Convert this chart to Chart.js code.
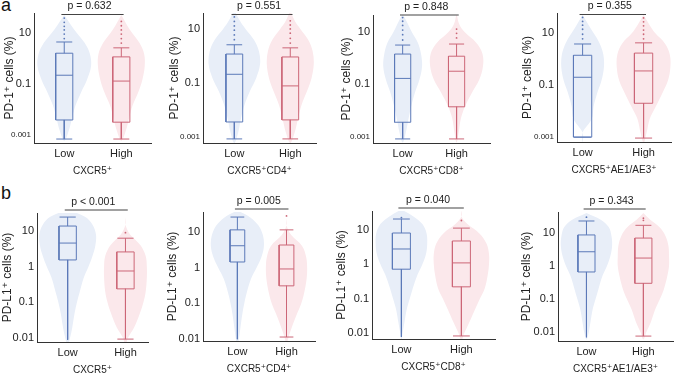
<!DOCTYPE html>
<html>
<head>
<meta charset="utf-8">
<script src="https://cdn.jsdelivr.net/npm/chart.js@4.4.1/dist/chart.umd.min.js"></script>
<style>
  body { margin: 0; background: #fff; width: 677px; height: 374px; overflow: hidden; position: relative;
         font-family: Arial, "Liberation Sans", sans-serif; }
  canvas { position: absolute; }
  .tag { position: absolute; font-size: 18px; line-height: 20px; color: #111; }
</style>
</head>
<body>
<div class="tag" style="left:1px;top:-5px">a</div>
<div class="tag" style="left:1px;top:183px">b</div>
<script>
// ---- data ----
const groups = ["Low", "High"];
const xTitles = ["CXCR5⁺", "CXCR5⁺CD4⁺", "CXCR5⁺CD8⁺", "CXCR5⁺AE1/AE3⁺",
                 "CXCR5⁺", "CXCR5⁺CD4⁺", "CXCR5⁺CD8⁺", "CXCR5⁺AE1/AE3⁺"];
const yTitles = ["PD-1⁺ cells (%)", "PD-L1⁺ cells (%)"];
const pValues = ["p = 0.632", "p = 0.551", "p = 0.848", "p = 0.355",
                 "p < 0.001", "p = 0.005", "p = 0.040", "p = 0.343"];
const topTicks = [0.001, 0.1, 10];
const bottomTicks = [0.01, 0.1, 1, 10];

// [lower whisker, q1, median, q3, upper whisker]
const lowStats = [
  [0.0007, 0.0039, 0.22, 1.6, 4.4],
  [0.00085, 0.0036, 0.21, 1.18, 2.6],
  [0.00083, 0.0036, 0.17, 1.45, 3.2],
  [0.001, 0.001, 0.2, 1.4, 3.8],
  [0.009, 1.55, 4.6, 13.8, 24.6],
  [0.01, 1.44, 4.1, 11.4, 26],
  [0.0076, 0.72, 2.8, 8.2, 21],
  [0.007, 0.66, 2.7, 8.7, 23]
];
const highStats = [
  [0.0007, 0.0032, 0.13, 1.15, 2.6],
  [0.00085, 0.0043, 0.078, 0.92, 2.0],
  [0.00083, 0.014, 0.32, 1.2, 3.5],
  [0.00092, 0.02, 0.35, 1.7, 4.2],
  [0.0094, 0.24, 0.76, 2.6, 6.3],
  [0.0115, 0.31, 0.92, 4.3, 11.4],
  [0.0081, 0.22, 1.1, 4.8, 11.4],
  [0.0076, 0.3, 1.74, 7, 17]
];
const lowOutliers = [
  [6, 9, 13, 18, 26, 38], [4, 6, 9, 13, 19, 28], [5, 8, 12, 18, 26, 36], [6, 9, 14, 20, 28, 40],
  [], [], [23], [30]
];
const highOutliers = [
  [4, 6, 9, 13, 19, 28], [3, 4.5, 7, 10, 14, 20], [6, 9, 13], [6, 9, 13, 19, 27, 38],
  [9], [28], [19], [24, 28]
];

// violin density (half width) at fixed levels
const topLevels = [50, 20, 10, 4, 1.5, 0.5, 0.15, 0.05, 0.015, 0.005, 0.0015, 0.0006];
const bottomLevels = [40, 25, 15, 8, 4, 2, 1, 0.5, 0.2, 0.1, 0.05, 0.02, 0.01, 0.006];
const lowDensity = [
  [0, 0.12, 0.22, 0.36, 0.45, 0.47, 0.4, 0.3, 0.2, 0.14, 0.08, 0],
  [0, 0.1, 0.2, 0.35, 0.44, 0.46, 0.39, 0.28, 0.18, 0.12, 0.07, 0],
  [0, 0.1, 0.17, 0.28, 0.34, 0.36, 0.31, 0.23, 0.16, 0.11, 0.06, 0],
  [0, 0.1, 0.18, 0.28, 0.34, 0.35, 0.31, 0.24, 0.18, 0.15, 0, 0],
  [0, 0.3, 0.43, 0.49, 0.48, 0.43, 0.36, 0.28, 0.21, 0.16, 0.12, 0.08, 0.04, 0],
  [0, 0.27, 0.43, 0.52, 0.54, 0.49, 0.39, 0.28, 0.19, 0.14, 0.1, 0.06, 0.03, 0],
  [0, 0.2, 0.35, 0.42, 0.43, 0.41, 0.35, 0.27, 0.19, 0.14, 0.09, 0.05, 0.02, 0],
  [0, 0.25, 0.39, 0.44, 0.45, 0.42, 0.36, 0.28, 0.21, 0.16, 0.11, 0.07, 0.04, 0]
];
const highDensity = [
  [0, 0.1, 0.19, 0.32, 0.4, 0.41, 0.37, 0.3, 0.2, 0.14, 0.08, 0],
  [0, 0.08, 0.18, 0.32, 0.4, 0.42, 0.38, 0.3, 0.2, 0.14, 0.08, 0],
  [0, 0.05, 0.15, 0.36, 0.48, 0.49, 0.42, 0.29, 0.16, 0.08, 0.04, 0],
  [0, 0.1, 0.19, 0.35, 0.43, 0.44, 0.4, 0.31, 0.2, 0.1, 0.05, 0],
  [0, 0, 0, 0.08, 0.26, 0.35, 0.37, 0.37, 0.35, 0.31, 0.25, 0.15, 0.04, 0],
  [0, 0, 0, 0.1, 0.32, 0.4, 0.42, 0.41, 0.36, 0.3, 0.21, 0.1, 0.03, 0],
  [0, 0, 0.1, 0.3, 0.42, 0.46, 0.46, 0.44, 0.39, 0.31, 0.23, 0.13, 0.05, 0],
  [0, 0.12, 0.28, 0.39, 0.44, 0.45, 0.45, 0.42, 0.36, 0.29, 0.21, 0.13, 0.05, 0]
];

// ---- layout (page pixels of each plot area + axis ranges) ----
const panels = [
  { ax: 34,  top: 13,  bot: 143, right: 153, tx: 10,  xmin: 0.47, xmax: 2.52, ymin: 0.00049, ymax: 60, dy: 1.5 },
  { ax: 203, top: 13,  bot: 143, right: 318, tx: 175, xmin: 0.44, xmax: 2.46, ymin: 0.0006,  ymax: 39, dy: 1.5 },
  { ax: 373, top: 15,  bot: 143, right: 492, tx: 347, xmin: 0.45, xmax: 2.62, ymin: 0.00058, ymax: 45, dy: 0 },
  { ax: 557, top: 13,  bot: 142, right: 673, tx: 528, xmin: 0.58, xmax: 2.45, ymin: 0.00065, ymax: 59, dy: 1.5 },
  { ax: 37,  top: 213, bot: 342, right: 150, tx: 8,   xmin: 0.47, xmax: 2.39, ymin: 0.0078,  ymax: 32, dy: -3 },
  { ax: 203, top: 212, bot: 341, right: 317, tx: 173, xmin: 0.30, xmax: 2.58, ymin: 0.0089,  ymax: 36, dy: -3 },
  { ax: 372, top: 211, bot: 339, right: 497, tx: 342, xmin: 0.51, xmax: 2.56, ymin: 0.0066,  ymax: 36, dy: -3 },
  { ax: 558, top: 212, bot: 341, right: 675, tx: 527, xmin: 0.50, xmax: 2.52, ymin: 0.0054,  ymax: 43, dy: -3 }
];

const FONT = 'Arial, "Liberation Sans", "DejaVu Sans", sans-serif';
Chart.defaults.font.family = FONT;
const BLUE = "#5b79b8", RED = "#cc6677";
const BLUE_FILL = "#e8eef8", RED_FILL = "#fbe8eb";
const BW = 0.15, CW = 0.14; // box / cap half width in x units

function boxPoints(c, s, capLow) {
  const [lo, q1, md, q3, hi] = s;
  const gap = { x: c, y: null };
  const pts = [
    { x: c - BW, y: q1 }, { x: c + BW, y: q1 }, { x: c + BW, y: q3 }, { x: c - BW, y: q3 }, { x: c - BW, y: q1 }, gap,
    { x: c - BW, y: md }, { x: c + BW, y: md }, gap,
    { x: c, y: q3 }, { x: c, y: hi }, gap,
    { x: c - CW, y: hi }, { x: c + CW, y: hi }, gap,
    { x: c, y: q1 }, { x: c, y: lo }
  ];
  if (capLow) pts.push(gap, { x: c - CW, y: lo }, { x: c + CW, y: lo });
  return pts;
}

function violinPoints(c, levels, widths) {
  const right = levels.map((v, k) => ({ x: c + widths[k], y: v }));
  const left = levels.map((v, k) => ({ x: c - widths[k], y: v })).reverse();
  return right.concat(left.slice(1));
}

// fills the violin outline using the line element's own path
const violinFill = {
  id: "violinFill",
  beforeDatasetDraw(chart, args) {
    const ds = chart.data.datasets[args.index];
    if (!ds.violin) return;
    const { ctx, chartArea: a } = chart;
    ctx.save();
    ctx.beginPath();
    ctx.rect(a.left, a.top, a.right - a.left, a.bottom - a.top);
    ctx.clip();
    ctx.beginPath();
    args.meta.dataset.path(ctx);
    ctx.closePath();
    ctx.fillStyle = ds.backgroundColor;
    ctx.fill();
    ctx.restore();
  }
};

const pBracket = {
  id: "pBracket",
  afterDatasetsDraw(chart, args, opts) {
    const { ctx, chartArea, scales: { x } } = chart;
    const y = chartArea.top + opts.dy;
    const x1 = x.getPixelForValue(0.95), x2 = x.getPixelForValue(2.04);
    ctx.save();
    ctx.strokeStyle = "#444";
    ctx.lineWidth = 1.2;
    ctx.beginPath();
    ctx.moveTo(x1, y);
    ctx.lineTo(x2, y);
    ctx.stroke();
    ctx.fillStyle = "#222";
    ctx.font = "10.5px " + FONT;
    ctx.textAlign = "center";
    ctx.textBaseline = "middle";
    ctx.fillText(opts.text, (x1 + x2) / 2 - 3, y - 8);
    ctx.restore();
  }
};

const W = 40, PT = 24, H = 36;

panels.forEach((L, i) => {
  const row = i < 4 ? 0 : 1;
  const left = L.ax - W, top = L.top - PT;
  const w = L.right - left + 2, h = L.bot + H - top;
  const cv = document.createElement("canvas");
  cv.width = w; cv.height = h;
  cv.style.left = left + "px"; cv.style.top = top + "px";
  cv.style.width = w + "px"; cv.style.height = h + "px";
  document.body.appendChild(cv);

  const levels = row === 0 ? topLevels : bottomLevels;
  const ticks = row === 0 ? topTicks : bottomTicks;
  const common = { type: "line", pointRadius: 0, borderWidth: 1, fill: false };

  const datasets = [
    { ...common, data: boxPoints(1, lowStats[i], row === 0), borderColor: BLUE, order: 1 },
    { ...common, data: boxPoints(2, highStats[i], true), borderColor: RED, order: 1 },
    { ...common, data: lowOutliers[i].map(v => ({ x: 1, y: v })), showLine: false,
      pointRadius: 0.9, pointBorderWidth: 0, pointBackgroundColor: BLUE, order: 1 },
    { ...common, data: highOutliers[i].map(v => ({ x: 2, y: v })), showLine: false,
      pointRadius: 0.9, pointBorderWidth: 0, pointBackgroundColor: RED, order: 1 },
    { ...common, violin: true, data: violinPoints(1, levels, lowDensity[i]), tension: 0.35,
      borderWidth: 0, backgroundColor: BLUE_FILL, order: 3 },
    { ...common, violin: true, data: violinPoints(2, levels, highDensity[i]), tension: 0.35,
      borderWidth: 0, backgroundColor: RED_FILL, order: 3 }
  ];

  new Chart(cv, {
    type: "line",
    data: { datasets },
    plugins: [violinFill, pBracket],
    options: {
      responsive: false,
      animation: false,
      events: [],
      layout: { padding: { top: PT, right: 2, bottom: 0, left: 0 } },
      plugins: {
        legend: { display: false },
        tooltip: { enabled: false },
        pBracket: { text: pValues[i], dy: L.dy }
      },
      scales: {
        x: {
          type: "linear",
          min: L.xmin,
          max: L.xmax,
          afterBuildTicks: (s) => { s.ticks = [{ value: 1 }, { value: 2 }]; },
          ticks: {
            callback: (v) => groups[v - 1] || "",
            font: { size: 11 },
            color: "#222",
            padding: 4,
            autoSkip: false,
            maxRotation: 0
          },
          grid: { display: false, drawTicks: false },
          border: { display: true, color: "#333", width: 1 },
          title: { display: true, text: xTitles[i], font: { size: 10 }, color: "#222", padding: { top: 0, bottom: 2 } },
          afterFit: (s) => { s.height = H; }
        },
        y: {
          type: "logarithmic",
          min: L.ymin,
          max: L.ymax,
          afterBuildTicks: (s) => { s.ticks = ticks.map(v => ({ value: v })); },
          ticks: {
            callback: (v) => String(v),
            font: (ctx) => ({ size: ctx.tick && ctx.tick.value < 0.005 ? 8 : 11 }),
            color: "#222",
            padding: 3
          },
          grid: { display: false, drawTicks: false },
          border: { display: true, color: "#333", width: 1 },
          title: { display: true, text: yTitles[row], font: { size: 12 }, color: "#222",
                   padding: { top: L.tx - left - 7.2, bottom: 0 } },
          afterFit: (s) => { s.width = W; }
        }
      }
    }
  });
});
</script>
</body>
</html>
